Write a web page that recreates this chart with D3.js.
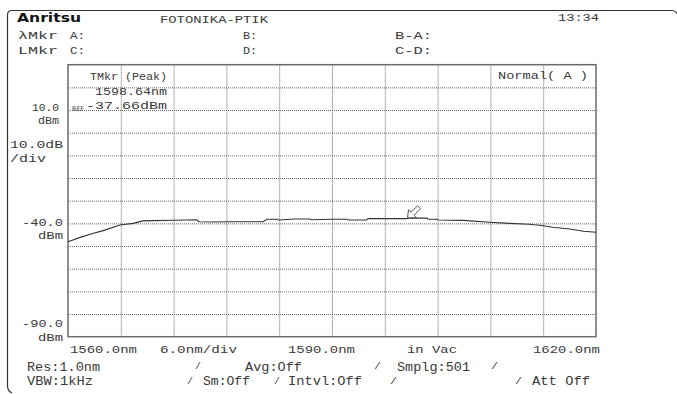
<!DOCTYPE html>
<html><head><meta charset="utf-8">
<script src="https://cdn.jsdelivr.net/npm/d3@7"></script>
<style>body{margin:0;background:#fff}svg{display:block}</style>
</head><body>
<svg id="c" width="677" height="394"></svg>
<script>
// ---- data ----
const wavelengths = [1560.0,1561.3,1562.9,1564.0,1565.9,1567.4,1568.5,1569.7,1571.9,1573.4,1574.6,1574.9,1576.5,1578.4,1582.2,1582.6,1583.7,1583.9,1585.8,1587.5,1587.7,1589.8,1591.7,1591.9,1593.9,1594.1,1598.5,1598.64,1600.8,1600.9,1601.9,1602.1,1604.9,1607.9,1610.2,1612.4,1613.6,1615.1,1617.0,1618.6,1620.0];
const powers      = [-48.1,-46.3,-44.4,-43.2,-40.7,-40.0,-38.9,-38.8,-38.6,-38.5,-38.4,-39.3,-39.4,-39.3,-39.3,-38.2,-38.2,-38.5,-38.1,-38.1,-38.4,-38.2,-38.2,-38.5,-38.5,-37.9,-37.9,-37.66,-37.7,-38.2,-38.2,-38.5,-38.7,-39.5,-40.0,-40.4,-40.8,-41.7,-42.5,-43.5,-43.9];
const xDomain = [1560, 1620];      // nm, 6 nm/div
const yDomain = [-90, 30];        // dBm, 10 dB/div
const xTicks = d3.range(1560, 1620.01, 6);
const yTicks = d3.range(-90, 30.01, 10);
const peak = {wl: 1598.64, p: -37.66};
const xLabels = ["1560.0nm", "6.0nm/div", "1590.0nm", "in Vac", "1620.0nm"];

const svg = d3.select("#c");
const L = 68, R = 596, T = 64.7, B = 336.7;
const x = d3.scaleLinear().domain(xDomain).range([L, R]);
const y = d3.scaleLinear().domain(yDomain).range([B, T]);
const FONT = "Liberation Mono, DejaVu Sans Mono, monospace";
const TC = "#3a3a3a";

function txt(x0, yb, s, w, size, opts) {
  opts = opts || {};
  const t = svg.append("text").attr("x", x0).attr("y", yb).text(s)
    .attr("font-family", opts.family || FONT)
    .attr("font-size", size || 11)
    .attr("fill", opts.fill || TC)
    .attr("font-weight", opts.weight || "normal");
  if (w) t.attr("textLength", w).attr("lengthAdjust", "spacingAndGlyphs");
  return t;
}

// outer frame
svg.append("path")
  .attr("d", "M677,14 Q676,10.5 672,10.5 L12,10.5 Q7.5,10.5 7.5,15 L7.5,386 Q7.5,391 12,393")
  .attr("fill", "none").attr("stroke", "#333").attr("stroke-width", 1.2);

// grid
const g = svg.append("g");
g.append("g").attr("transform", `translate(0,${B})`)
  .call(d3.axisBottom(x).tickValues(xTicks.slice(1, -1)).tickSize(-(B - T)).tickFormat(""))
  .call(a => a.select(".domain").remove())
  .call(a => a.selectAll("line").attr("stroke", "#666").attr("stroke-dasharray", "1,1"));
g.append("g").attr("transform", `translate(${L},0)`)
  .call(d3.axisLeft(y).tickValues(yTicks.slice(1, -1)).tickSize(-(R - L)).tickFormat(""))
  .call(a => a.select(".domain").remove())
  .call(a => a.selectAll("line").attr("stroke", "#666").attr("stroke-dasharray", "1,1"));

// plot border
svg.append("rect").attr("x", L).attr("y", T).attr("width", R - L).attr("height", B - T)
  .attr("fill", "none").attr("stroke", "#6a6a6a").attr("stroke-width", 1.5);

// trace
const line = d3.line().x((d, i) => x(wavelengths[i])).y((d, i) => y(powers[i]));
svg.append("path").datum(powers).attr("d", line)
  .attr("fill", "none").attr("stroke", "#333").attr("stroke-width", 1.1);

// peak marker arrow
const px = x(peak.wl) - 0.5, py = y(peak.p) - 0.3;
svg.append("path")
  .attr("transform", `translate(${px},${py})`)
  .attr("d", "M0,0 L1,-8 L3.5,-5.5 L10,-12 L13,-9 L6.5,-2.5 L9,0 Z")
  .attr("fill", "#fff").attr("stroke", "#444").attr("stroke-width", 0.9);

// header
txt(17, 22, "Anritsu", 64, 13, {weight: "bold", family: "DejaVu Sans, sans-serif", fill: "#111"});
txt(160, 22.5, "FOTONIKA-PTIK", 108);
txt(558, 21, "13:34", 41);
txt(18, 39.3, "λMkr", 40);
txt(70, 39.3, "A:", 15);
txt(243, 39.3, "B:", 14);
txt(395, 39.3, "B-A:", 37);
txt(18, 54.3, "LMkr", 40);
txt(70, 54.3, "C:", 15);
txt(243, 54.3, "D:", 14);
txt(395, 54.3, "C-D:", 37);

// in-plot labels
txt(90, 80, "TMkr (Peak)", 77, 11);
txt(95, 94.5, "1598.64nm", 72);
txt(86, 108.5, "-37.66dBm", 81);
txt(72, 110.5, "REF", 12, 6.5, {family: "DejaVu Sans, sans-serif"});
txt(498, 79, "Normal( A )", 90, 11);

// y-side labels
txt(32, 110.7, "10.0", 27);
txt(38, 124, "dBm", 21);
txt(10, 148, "10.0dB", 53);
txt(10, 162, "/div", 36);
txt(22, 226, "-40.0", 41);
txt(38, 239, "dBm", 25);
txt(22, 327, "-90.0", 41);
txt(38, 341, "dBm", 25);

// x labels
const xl = [[70, 67], [160, 77], [288, 67], [407, 50], [533, 67]];
xLabels.forEach((s, i) => txt(xl[i][0], 353, s, xl[i][1], 11.5));

// footer
const FS = 12.5;
txt(27, 370.5, "Res:1.0nm", 73, FS);
txt(195, 369, "/", 6, 9);
txt(245, 370.5, "Avg:Off", 57, FS);
txt(374, 369, "/", 7, 9);
txt(397, 370.5, "Smplg:501", 73, FS);
txt(491, 369, "/", 7, 9);
txt(27, 385, "VBW:1kHz", 66, FS);
txt(187, 384, "/", 6, 9);
txt(203, 385, "Sm:Off", 47, FS);
txt(274, 384, "/", 6, 9);
txt(288, 385, "Intvl:Off", 74, FS);
txt(390, 384, "/", 7, 9);
txt(515, 384, "/", 7, 9);
txt(532, 385, "Att Off", 58, FS);
</script>
</body></html>
